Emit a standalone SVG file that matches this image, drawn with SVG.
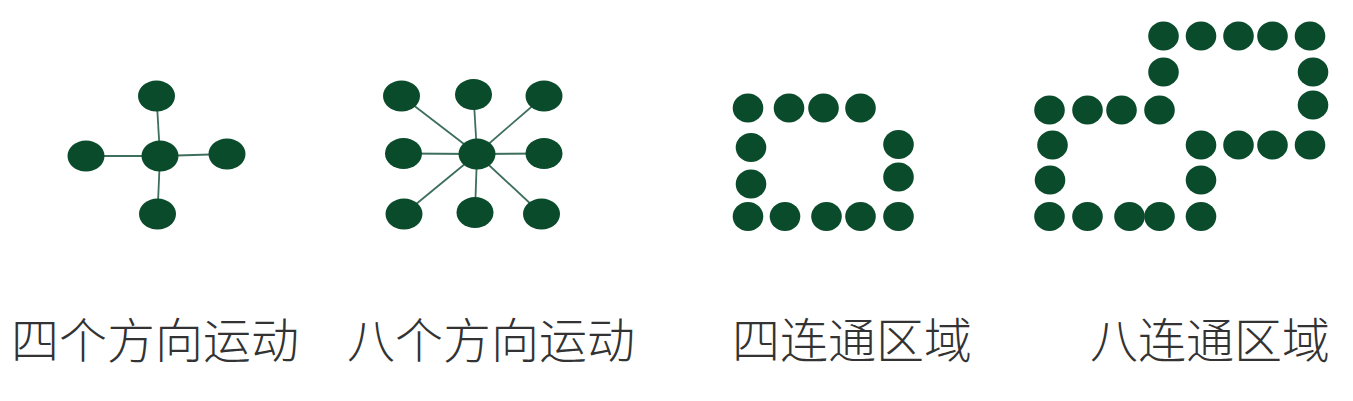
<svg xmlns="http://www.w3.org/2000/svg" width="1353" height="401" viewBox="0 0 1353 401">
<style>
.d{fill:#0a4b2b}
.s{fill:#0a4b2b}
.l{stroke:#3d6f5c;stroke-width:1.8;fill:none}
.t{font-family:"Noto Sans CJK SC","Noto Sans",sans-serif;font-size:48px;font-weight:300;fill:#333333}
</style>
<rect width="1353" height="401" fill="#ffffff"/>
<g id="connectors">
<line class="l" x1="156.5" y1="96" x2="160" y2="156"/>
<line class="l" x1="86" y1="156" x2="160" y2="156"/>
<line class="l" x1="227" y1="154" x2="160" y2="156"/>
<line class="l" x1="157.5" y1="214" x2="160" y2="156"/>
<line class="l" x1="401.5" y1="96" x2="477" y2="154"/>
<line class="l" x1="473.5" y1="94.5" x2="477" y2="154"/>
<line class="l" x1="544" y1="96" x2="477" y2="154"/>
<line class="l" x1="403.5" y1="153.5" x2="477" y2="154"/>
<line class="l" x1="544" y1="153.5" x2="477" y2="154"/>
<line class="l" x1="404" y1="214" x2="477" y2="154"/>
<line class="l" x1="475" y1="212.5" x2="477" y2="154"/>
<line class="l" x1="541.5" y1="214" x2="477" y2="154"/>
</g>
<g id="four-direction">
<ellipse class="d" cx="156.5" cy="96" rx="18.5" ry="15.5"/>
<ellipse class="d" cx="86" cy="156" rx="18.5" ry="15.5"/>
<ellipse class="d" cx="160" cy="156" rx="18.5" ry="15.5"/>
<ellipse class="d" cx="227" cy="154" rx="18.5" ry="15.5"/>
<ellipse class="d" cx="157.5" cy="214" rx="18.5" ry="15.5"/>
</g>
<g id="eight-direction">
<ellipse class="d" cx="401.5" cy="96" rx="18.5" ry="15.5"/>
<ellipse class="d" cx="473.5" cy="94.5" rx="18.5" ry="15.5"/>
<ellipse class="d" cx="544" cy="96" rx="18.5" ry="15.5"/>
<ellipse class="d" cx="403.5" cy="153.5" rx="18.5" ry="15.5"/>
<ellipse class="d" cx="477" cy="154" rx="18.5" ry="15.5"/>
<ellipse class="d" cx="544" cy="153.5" rx="18.5" ry="15.5"/>
<ellipse class="d" cx="404" cy="214" rx="18.5" ry="15.5"/>
<ellipse class="d" cx="475" cy="212.5" rx="18.5" ry="15.5"/>
<ellipse class="d" cx="541.5" cy="214" rx="18.5" ry="15.5"/>
</g>
<g id="four-connected">
<ellipse class="s" cx="748" cy="108" rx="15.3" ry="14.5"/>
<ellipse class="s" cx="789" cy="108" rx="15.3" ry="14.5"/>
<ellipse class="s" cx="823.5" cy="108" rx="15.3" ry="14.5"/>
<ellipse class="s" cx="860.5" cy="108" rx="15.3" ry="14.5"/>
<ellipse class="s" cx="751" cy="147.5" rx="15.3" ry="14.5"/>
<ellipse class="s" cx="751" cy="184" rx="15.3" ry="14.5"/>
<ellipse class="s" cx="898.5" cy="144.5" rx="15.3" ry="14.5"/>
<ellipse class="s" cx="898.5" cy="177" rx="15.3" ry="14.5"/>
<ellipse class="s" cx="748" cy="216.5" rx="15.3" ry="14.5"/>
<ellipse class="s" cx="785" cy="216.5" rx="15.3" ry="14.5"/>
<ellipse class="s" cx="826.5" cy="216.5" rx="15.3" ry="14.5"/>
<ellipse class="s" cx="860.5" cy="216.5" rx="15.3" ry="14.5"/>
<ellipse class="s" cx="898.5" cy="216.5" rx="15.3" ry="14.5"/>
</g>
<g id="eight-connected">
<ellipse class="s" cx="1163.5" cy="36" rx="15.3" ry="14.5"/>
<ellipse class="s" cx="1201" cy="36" rx="15.3" ry="14.5"/>
<ellipse class="s" cx="1238.5" cy="36" rx="15.3" ry="14.5"/>
<ellipse class="s" cx="1272.5" cy="36" rx="15.3" ry="14.5"/>
<ellipse class="s" cx="1310" cy="36" rx="15.3" ry="14.5"/>
<ellipse class="s" cx="1163.5" cy="72" rx="15.3" ry="14.5"/>
<ellipse class="s" cx="1313" cy="72" rx="15.3" ry="14.5"/>
<ellipse class="s" cx="1313" cy="105" rx="15.3" ry="14.5"/>
<ellipse class="s" cx="1049.5" cy="110" rx="15.3" ry="14.5"/>
<ellipse class="s" cx="1087.5" cy="110" rx="15.3" ry="14.5"/>
<ellipse class="s" cx="1121.5" cy="110" rx="15.3" ry="14.5"/>
<ellipse class="s" cx="1159.5" cy="110" rx="15.3" ry="14.5"/>
<ellipse class="s" cx="1052.5" cy="145" rx="15.3" ry="14.5"/>
<ellipse class="s" cx="1201" cy="145" rx="15.3" ry="14.5"/>
<ellipse class="s" cx="1238.5" cy="145" rx="15.3" ry="14.5"/>
<ellipse class="s" cx="1272.5" cy="145" rx="15.3" ry="14.5"/>
<ellipse class="s" cx="1310" cy="145" rx="15.3" ry="14.5"/>
<ellipse class="s" cx="1050" cy="180" rx="15.3" ry="14.5"/>
<ellipse class="s" cx="1201" cy="180" rx="15.3" ry="14.5"/>
<ellipse class="s" cx="1049.5" cy="216.5" rx="15.3" ry="14.5"/>
<ellipse class="s" cx="1087.5" cy="216.5" rx="15.3" ry="14.5"/>
<ellipse class="s" cx="1129.5" cy="216.5" rx="15.3" ry="14.5"/>
<ellipse class="s" cx="1159.5" cy="216.5" rx="15.3" ry="14.5"/>
<ellipse class="s" cx="1201" cy="216.5" rx="15.3" ry="14.5"/>
</g>
<g id="labels">
<text class="t" x="11" y="358">四个方向运动</text>
<text class="t" x="347" y="358">八个方向运动</text>
<text class="t" x="732" y="358">四连通区域</text>
<text class="t" x="1090" y="358">八连通区域</text>
</g>
</svg>
